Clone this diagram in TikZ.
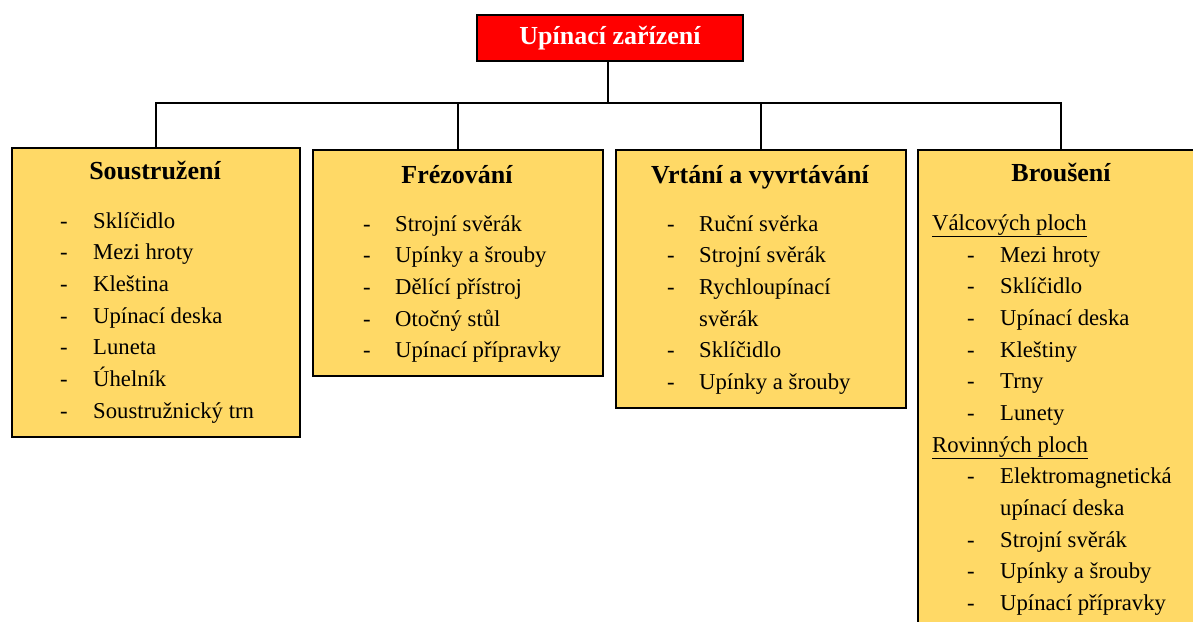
\documentclass[tikz,border=0pt]{standalone}
\usepackage{fontspec}
\setmainfont{Liberation Serif}
\definecolor{boxfill}{RGB}{255,217,102}
\definecolor{topred}{RGB}{255,0,0}
\newcommand\itemlist[5]{%
  \foreach \t [count=\i from 0] in {#5} {
    \node[item] (#1d\i) at (#2, #4+31.7*\i) {-};
    \node[item] (#1t\i) at (#3, #4+31.7*\i) {\t};
  }}
\begin{document}
\begin{tikzpicture}[x=1pt,y=-1pt,
  box/.style={draw=black, line width=2pt, fill=boxfill, inner sep=0pt, anchor=north west},
  topbox/.style={draw=black, line width=2pt, fill=topred, inner sep=0pt, text=white,
     font=\fontsize{26}{30}\selectfont\bfseries, minimum width=266pt, minimum height=46pt},
  head/.style={font=\fontsize{26}{30}\selectfont\bfseries, anchor=base, inner sep=0pt},
  item/.style={font=\fontsize{22.7}{27}\selectfont, anchor=base west, inner sep=0pt},
  conn/.style={line width=2.5pt}]
\useasboundingbox (0,0) rectangle (1193,621);
\clip (0,0) rectangle (1193,621);
% top
\node[topbox] (top) at (610,38) {Upínací zařízení};
% boxes
\node[box, minimum width=288pt, minimum height=289pt] (b1) at (11,147) {};
\node[box, minimum width=290pt, minimum height=226pt] (b2) at (312,149) {};
\node[box, minimum width=290pt, minimum height=258pt] (b3) at (615,149) {};
\node[box, minimum width=286pt, minimum height=500pt] (b4) at (917,149) {};
% connectors
\coordinate (j) at (608,103);
\draw[conn] (top.south -| j) -- (j);
\draw[conn] (b1.north) -- (b1.north |- j) -- (b4.north |- j) -- (b4.north);
\draw[conn] (b2.north) -- (b2.north |- j);
\draw[conn] (b3.north) -- (b3.north |- j);
% box 1
\node[head] (h1) at (155,179) {Soustružení};
\itemlist{a}{60}{93}{228}{Sklíčidlo,Mezi hroty,Kleština,Upínací deska,Luneta,Úhelník,Soustružnický trn}
% box 2
\node[head] (h2) at (457,183) {Frézování};
\itemlist{b}{363}{395}{231}{Strojní svěrák,Upínky a šrouby,Dělící přístroj,Otočný stůl,Upínací přípravky}
% box 3
\node[head] (h3) at (760,183) {Vrtání a vyvrtávání};
\itemlist{c}{667}{699}{231}{Ruční svěrka,Strojní svěrák,Rychloupínací}
\node[item] (c3) at (699,231+31.7*3) {svěrák};
\itemlist{e}{667}{699}{231+31.7*4}{Sklíčidlo,Upínky a šrouby}
% box 4
\node[head] (h4) at (1061,181) {Broušení};
\node[item] (s1) at (932,230) {\underline{Válcových ploch}};
\itemlist{f}{967}{1000}{262}{Mezi hroty,Sklíčidlo,Upínací deska,Kleštiny,Trny,Lunety}
\node[item] (s2) at (932,452) {\underline{Rovinných ploch}};
\itemlist{g}{967}{1000}{483}{Elektromagnetická}
\node[item] (g1x) at (1000,515) {upínací deska};
\itemlist{h}{967}{1000}{547}{Strojní svěrák,Upínky a šrouby,Upínací přípravky}
\end{tikzpicture}
\end{document}
